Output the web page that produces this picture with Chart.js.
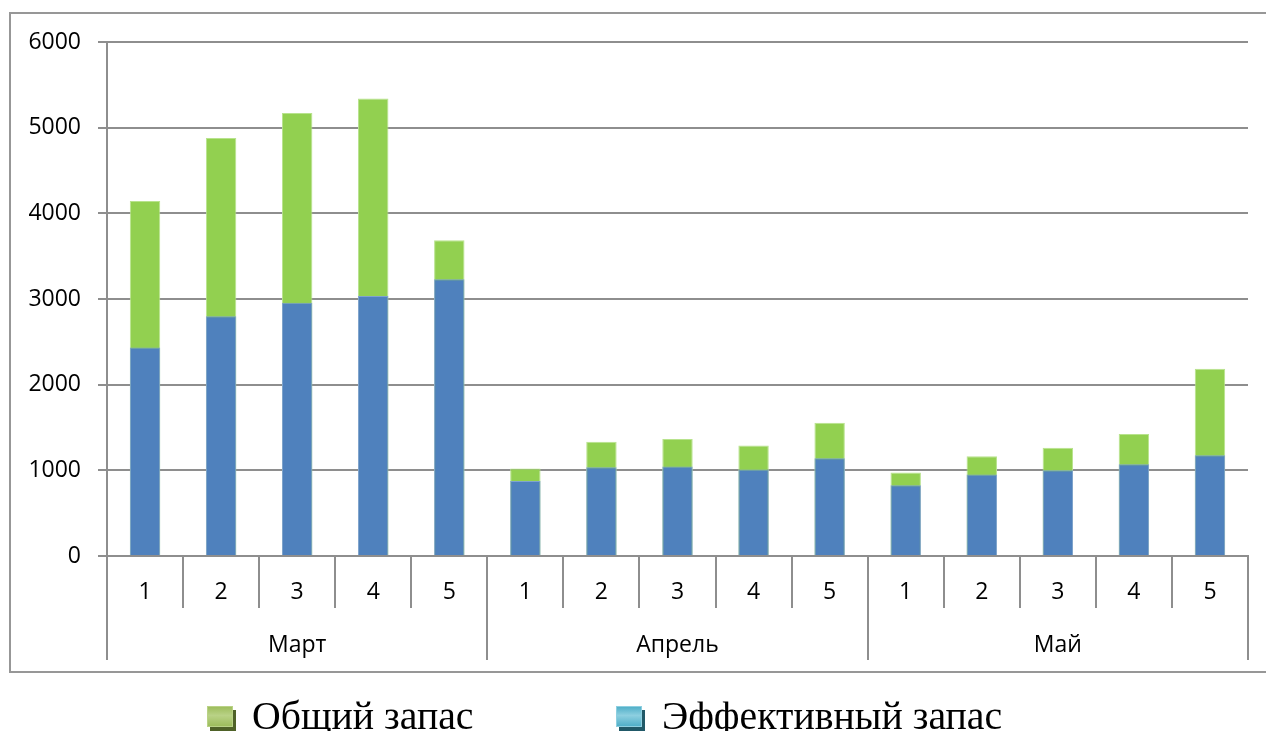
<!DOCTYPE html>
<html>
<head>
<meta charset="utf-8">
<script src="https://cdn.jsdelivr.net/npm/chart.js@4/dist/chart.umd.min.js"></script>
<style>
    html, body { margin: 0; padding: 0; background: #fff; }
    #chart { display: block; }
</style>
</head>
<body>
<canvas id="chart" width="1266" height="731"></canvas>
<script>
// Data
const days = ['1', '2', '3', '4', '5', '1', '2', '3', '4', '5', '1', '2', '3', '4', '5'];
const months = ['Март', 'Апрель', 'Май'];
const totalStock = [4145, 4880, 5170, 5340, 3685, 1020, 1335, 1365, 1290, 1555, 975, 1165, 1265, 1425, 2185];
const effectiveStock = [2435, 2800, 2955, 3035, 3230, 875, 1035, 1045, 1010, 1140, 825, 950, 1000, 1070, 1175];

const gridColor = '#8e8e8e';
const axisFont = { family: '"Open Sans", "Noto Sans", sans-serif', size: 23 };

// Frame around the chart and the legend below it
const framePlugin = {
    id: 'frame',
    beforeDraw(chart) {
        const ctx = chart.ctx;
        ctx.save();
        ctx.strokeStyle = '#979797';
        ctx.lineWidth = 2;
        ctx.strokeRect(10, 13, 1300, 659);
        ctx.restore();
    },
    afterDraw(chart) {
        const ctx = chart.ctx;
        const items = [
            { ds: chart.data.datasets[0], x: 207, textX: 252 },
            { ds: chart.data.datasets[1], x: 616, textX: 662 }
        ];
        ctx.save();
        items.forEach(item => {
            const m = item.ds.legendMarker;
            const y = 706;
            ctx.fillStyle = m.shadow;
            ctx.fillRect(item.x + 3, y + 4, 26, 21);
            const g = ctx.createLinearGradient(0, y, 0, y + 21);
            g.addColorStop(0, m.face);
            g.addColorStop(0.45, m.light);
            g.addColorStop(1, m.face);
            ctx.fillStyle = g;
            ctx.fillRect(item.x, y, 26, 21);
            ctx.strokeStyle = m.light;
            ctx.lineWidth = 1;
            ctx.strokeRect(item.x + 0.5, y + 0.5, 25, 20);

            // legend text is slightly narrow in the original
            ctx.save();
            ctx.translate(item.textX, 729);
            ctx.scale(0.97, 1);
            ctx.fillStyle = '#000';
            ctx.font = '41px "Liberation Serif", "Times New Roman", serif';
            ctx.textBaseline = 'alphabetic';
            ctx.textAlign = 'left';
            ctx.fillText(item.ds.label, 0, 0);
            ctx.restore();
        });
        ctx.restore();
    }
};

const ctx = document.getElementById('chart');
new Chart(ctx, {
    type: 'bar',
    data: {
        labels: days,
        datasets: [
            {
                label: 'Общий запас',
                data: totalStock,
                backgroundColor: '#92D050',
                borderColor: '#b8e38d',
                borderWidth: 1,
                barPercentage: 0.4,
                categoryPercentage: 1,
                order: 1,
                legendMarker: { face: '#9BBB59', light: '#b9d286', shadow: '#4F6228' }
            },
            {
                label: 'Эффективный запас',
                data: effectiveStock,
                backgroundColor: '#4F81BD',
                borderColor: '#7fa3cf',
                borderWidth: 1,
                barPercentage: 0.4,
                categoryPercentage: 1,
                order: 0,
                legendMarker: { face: '#4BACC6', light: '#8dcfe0', shadow: '#215968' }
            }
        ]
    },
    options: {
        responsive: false,
        animation: false,
        devicePixelRatio: 1,
        layout: { padding: { top: 42, right: 18, bottom: 71, left: 0 } },
        plugins: {
            legend: { display: false },
            tooltip: { enabled: false }
        },
        scales: {
            x: {
                stacked: true,
                offset: true,
                grid: { offset: true, drawOnChartArea: false, tickLength: 52, color: gridColor, lineWidth: 2 },
                border: { display: true, color: gridColor, width: 2 },
                ticks: { font: axisFont, color: '#000', padding: -29, maxRotation: 0, autoSkip: false },
                afterFit(scale) { scale.height = 52; }
            },
            x2: {
                type: 'category',
                labels: months,
                position: 'bottom',
                offset: true,
                grid: { offset: true, drawOnChartArea: false, tickLength: 52, color: gridColor, lineWidth: 2 },
                border: { display: false },
                ticks: { font: axisFont, color: '#000', padding: -28, maxRotation: 0, autoSkip: false },
                afterFit(scale) { scale.height = 52; }
            },
            y: {
                stacked: false,
                min: 0,
                max: 6000,
                ticks: {
                    stepSize: 1000, font: axisFont, color: '#000', padding: 17,
                    callback: value => String(value)
                },
                grid: { color: gridColor, lineWidth: 2, tickLength: 9 },
                border: { display: true, color: gridColor, width: 2 },
                afterFit(scale) { scale.width = 107; }
            }
        }
    },
    plugins: [framePlugin]
});
</script>
</body>
</html>
